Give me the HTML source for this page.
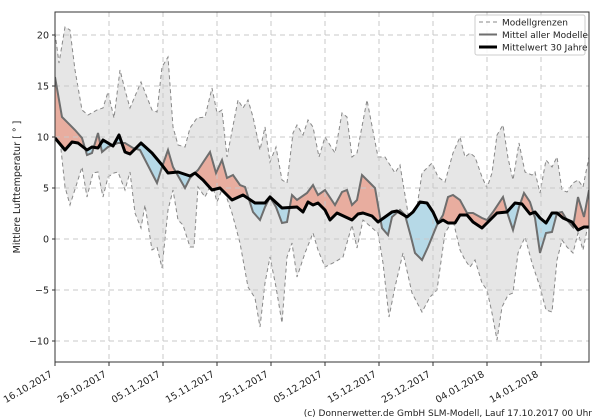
<!DOCTYPE html>
<html><head><meta charset="utf-8"><style>
html,body{margin:0;padding:0;background:#fff;width:600px;height:420px;overflow:hidden}
svg text{font-family:"DejaVu Sans","Liberation Sans",sans-serif;fill:#222}
</style></head><body>
<svg id="s" width="600" height="420" xmlns="http://www.w3.org/2000/svg">
<defs>
<clipPath id="plot"><rect x="55" y="12" width="534" height="350"/></clipPath>
<clipPath id="above"><polygon id="ab"/></clipPath>
<clipPath id="below"><polygon id="be"/></clipPath>
</defs>
<g clip-path="url(#plot)">
<polygon id="band" fill="#e6e6e6"/>
<polyline id="up" fill="none" stroke="#888" stroke-width="1" stroke-dasharray="4,3"/>
<polyline id="lo" fill="none" stroke="#888" stroke-width="1" stroke-dasharray="4,3"/>
<g clip-path="url(#above)"><polygon id="dr" fill="#e8ad9f"/></g>
<g clip-path="url(#below)"><polygon id="db" fill="#b6d9e7"/></g>
<g id="grid" stroke="#c8c8c8" stroke-width="1" stroke-dasharray="5,4" fill="none"></g>
<polyline id="mm" fill="none" stroke="#6e6e6e" stroke-width="2"/>
<polyline id="cl" fill="none" stroke="#000" stroke-width="3" stroke-linejoin="round"/>
</g>
<rect x="55" y="12" width="534" height="350" fill="none" stroke="#333" stroke-width="1"/>
<g id="ticks" font-size="9.5"></g>
<text transform="translate(20,187) rotate(-90)" text-anchor="middle" font-size="9.5">Mittlere Lufttemperatur [ ° ]</text>
<g>
<rect x="475" y="15" width="110" height="40" fill="#fff" fill-opacity="0.85" stroke="#ccc" rx="2"/>
<line x1="479" y1="22" x2="497" y2="22" stroke="#888" stroke-dasharray="4,3"/>
<text x="502" y="25.5" font-size="9">Modellgrenzen</text>
<line x1="479" y1="34.5" x2="497" y2="34.5" stroke="#6e6e6e" stroke-width="2"/>
<text x="502" y="38" font-size="9">Mittel aller Modelle</text>
<line x1="479" y1="47" x2="497" y2="47" stroke="#000" stroke-width="3"/>
<text x="502" y="50.5" font-size="9">Mittelwert 30 Jahre</text>
</g>
<text x="592" y="416" text-anchor="end" font-size="9">(c) Donnerwetter.de GmbH SLM-Modell, Lauf 17.10.2017 00 Uhr</text>
</svg>
<script>
const up=[[55,33],[59,63],[65,27],[70,30],[75,70],[82,110],[88,115],[97,110],[103,108],[108,92],[114,118],[120,70],[125,90],[130,108],[141,82],[152,110],[157,112],[162,67],[168,57],[173,127],[178,145],[185,147],[190,128],[197,118],[205,117],[212,88],[217,113],[222,110],[227,157],[238,100],[243,108],[248,100],[253,117],[260,150],[265,127],[270,162],[276,147],[282,180],[287,183],[293,133],[297,125],[303,135],[308,120],[313,127],[319,157],[325,137],[335,153],[342,113],[347,117],[352,157],[357,153],[367,100],[378,157],[385,157],[395,173],[400,165],[407,207],[412,240],[417,207],[422,173],[432,163],[438,177],[445,182],[453,153],[460,137],[465,157],[470,153],[475,157],[482,177],[487,188],[492,173],[497,135],[503,125],[508,158],[513,180],[519,143],[525,172],[532,175],[535,172],[540,193],[546,160],[552,167],[557,157],[562,190],[567,192],[573,183],[578,180],[583,187],[589,157]];
const lo=[[55,100],[60,140],[65,187],[70,205],[77,183],[82,167],[87,197],[93,173],[98,172],[103,197],[108,177],[114,173],[118,172],[125,190],[130,172],[135,213],[141,228],[145,205],[152,250],[157,247],[162,268],[168,210],[173,190],[178,220],[183,225],[190,247],[194,247],[198,187],[205,197],[212,183],[217,202],[223,187],[232,213],[240,243],[248,287],[255,298],[260,327],[265,283],[270,257],[276,287],[282,323],[287,257],[292,243],[297,277],[305,253],[313,233],[318,250],[325,267],[335,262],[343,257],[352,225],[357,248],[363,220],[378,233],[383,263],[389,317],[395,287],[403,253],[412,293],[422,312],[430,297],[437,290],[445,233],[453,220],[460,250],[465,260],[470,267],[475,260],[482,283],[487,290],[492,313],[497,340],[502,307],[508,295],[513,293],[518,253],[525,237],[532,263],[540,287],[546,310],[552,312],[557,260],[562,240],[567,247],[573,253],[578,233],[583,250],[589,220]];
const mm=[[55,77],[62,117],[75,130],[82,138],[87,155],[92,153],[98,133],[102,152],[108,147],[118,143],[125,143],[133,148],[140,150],[157,183],[162,167],[168,150],[173,167],[185,188],[190,178],[198,170],[210,152],[216,173],[222,160],[227,178],[233,175],[240,185],[245,187],[253,212],[260,220],[265,207],[270,197],[276,207],[282,223],[287,222],[292,195],[297,200],[307,193],[313,185],[318,195],[325,190],[335,205],[342,192],[347,190],[352,205],[357,200],[362,175],[370,183],[375,188],[382,228],[388,235],[392,217],[400,210],[405,215],[411,237],[415,253],[422,260],[428,247],[437,225],[443,215],[448,197],[453,195],[460,200],[467,213],[473,213],[482,218],[487,220],[493,212],[503,197],[508,215],[513,230],[519,207],[524,193],[530,202],[535,218],[540,253],[546,233],[552,232],[557,213],[562,212],[567,220],[573,227],[578,197],[584,217],[589,190]];
const cl=[[55,138],[65,150],[72,142],[78,143],[87,150],[92,147],[98,148],[103,140],[113,146],[119,135],[125,152],[130,154],[141,143],[152,153],[162,165],[168,173],[178,172],[190,176],[195,173],[203,180],[212,190],[220,188],[232,200],[243,195],[255,203],[265,203],[270,197],[282,208],[297,207],[303,212],[308,202],[313,205],[318,203],[325,210],[330,220],[337,213],[352,220],[358,214],[363,213],[372,216],[378,222],[392,212],[397,211],[407,217],[413,212],[420,202],[427,203],[433,212],[438,223],[443,220],[448,223],[455,223],[460,215],[467,215],[473,222],[482,228],[490,220],[497,213],[507,212],[515,203],[522,204],[530,214],[535,212],[540,218],[546,223],[552,213],[557,213],[563,218],[572,222],[578,230],[584,227],[589,227]];
const s=a=>a.map(p=>p.join(',')).join(' ');
const $=id=>document.getElementById(id);
$('band').setAttribute('points',s(up.concat(lo.slice().reverse())));
$('up').setAttribute('points',s(up));$('lo').setAttribute('points',s(lo));
const diff=s(mm.concat(cl.slice().reverse()));
$('dr').setAttribute('points',diff);$('db').setAttribute('points',diff);
$('ab').setAttribute('points',s([[55,0]].concat(cl,[[589,0]])));
$('be').setAttribute('points',s([[55,420]].concat(cl,[[589,420]])));
$('mm').setAttribute('points',s(mm));$('cl').setAttribute('points',s(cl));
const NS='http://www.w3.org/2000/svg';
const g=$('grid'),t=$('ticks');
function el(p,tag,at,txt){const e=document.createElementNS(NS,tag);for(const k in at)e.setAttribute(k,at[k]);if(txt)e.textContent=txt;p.appendChild(e);return e;}
[20,15,10,5,0,-5,-10].forEach(v=>{const y=239-v*10.2;
el(g,'line',{x1:55,x2:589,y1:y,y2:y});
el(t,'line',{x1:52,x2:55,y1:y,y2:y,stroke:'#333'});
el(t,'text',{x:49,y:y+3.5,'text-anchor':'end'},v<0?'\u2212'+(-v):String(v));});
const d=['16.10.2017','26.10.2017','05.11.2017','15.11.2017','25.11.2017','05.12.2017','15.12.2017','25.12.2017','04.01.2018','14.01.2018'];
d.forEach((lab,i)=>{const x=55+54*i;
if(i>0)el(g,'line',{x1:x,x2:x,y1:12,y2:362});
el(t,'line',{x1:x,x2:x,y1:362,y2:366,stroke:'#333'});
const lx=x-2,ly=376;
el(t,'text',{x:lx,y:ly,'text-anchor':'end',transform:`rotate(-30 ${lx} ${ly})`},lab);});
</script>
</body></html>
